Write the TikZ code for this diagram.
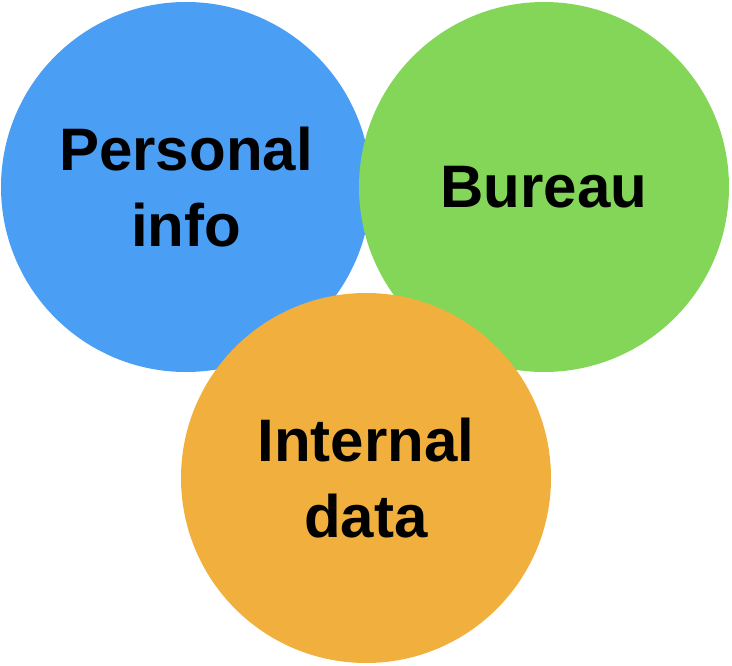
\documentclass[tikz,border=0pt]{standalone}
\usepackage{fontspec}
\setmainfont{Liberation Sans}
\definecolor{cblue}{RGB}{74,159,245}
\definecolor{cgreen}{RGB}{131,214,88}
\definecolor{corange}{RGB}{241,176,62}
\tikzset{
  blob/.style={circle, minimum size=370pt, inner sep=0pt, draw=none,
    align=center, font=\fontsize{60pt}{76pt}\selectfont\bfseries, text=black}
}
\begin{document}
\begin{tikzpicture}[x=1pt,y=-1pt]
\useasboundingbox (0,0) rectangle (732,666);
\node[blob, fill=cblue] (pers) at (186,187) {Personal\\info};
\node[blob, fill=cgreen] (bur) at (544,187) {Bureau};
\node[blob, fill=corange] (intl) at (366,478) {Internal\\data};
\end{tikzpicture}
\end{document}
